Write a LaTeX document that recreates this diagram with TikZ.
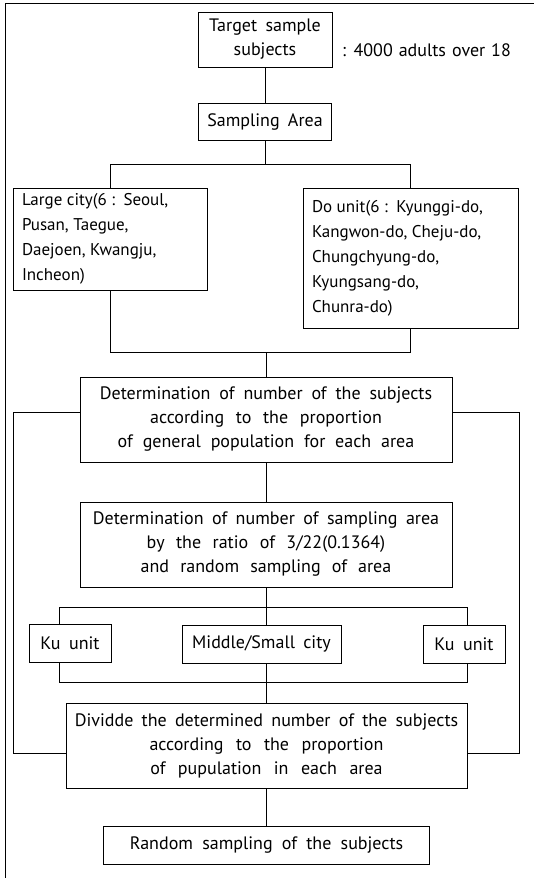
\documentclass[tikz,border=0pt]{standalone}
\usepackage{fontspec}
\setmainfont{PT Sans}
\usetikzlibrary{calc,positioning}
\newcommand\boxfont{\fontsize{18}{24}\selectfont}
\newcommand\listfont{\fontsize{17}{25}\selectfont}

\begin{document}
\begin{tikzpicture}[x=1pt,y=1pt,node distance=35pt,
    stage/.style={
    % The shape:
    rectangle,
    draw,line width=1pt,
    inner xsep=4pt,inner ysep=3pt,
    % The rest
    align=center,
    font=\boxfont,
    execute at begin node={\spaceskip=8pt plus 2pt\relax}},
    listbox/.style={stage,align=left,inner xsep=9pt,font=\listfont,
    execute at begin node={\spaceskip=4.5pt plus 1pt\relax}},
    link/.style={line width=1pt}]
    \useasboundingbox (0,0) rectangle (534,-878);
    % frame of the page
    \draw[link] (5,-878) -- (5,-3) -- (534,-3);
    \node (target) [stage,text width=126pt,minimum height=55pt] at (265,-39.5) {Target sample\\subjects};
    \node (note) [right=6pt of target,yshift=-11pt,font=\boxfont,
      execute at begin node={\spaceskip=6pt\relax}] {: 4000 adults over 18};
    \node (sampling) [stage,text width=125pt,minimum height=37pt,below=35pt of target] {Sampling Area};
    \node (large) [listbox,text width=176pt,minimum height=102pt] at (110,-239) {Large city(6 : Seoul,\\Pusan, Taegue,\\Daejoen, Kwangju,\\Incheon)};
    \node (dounit) [listbox,text width=197pt,minimum height=140pt] at (410.5,-258) {Do unit(6 : Kyunggi-do,\\Kangwon-do, Cheju-do,\\Chungchyung-do,\\Kyungsang-do,\\Chunra-do)};
    \node (det1) [stage,text width=364pt,minimum height=85pt] at (266,-419.5) {Determination of number of the subjects\\according to the proportion\\of general population for each area};
    \node (det2) [stage,text width=364pt,minimum height=85pt,below=39pt of det1] {Determination of number of sampling area\\by the ratio of 3/22(0.1364)\\and random sampling of area};
    \node (kuL) [stage,text width=74pt,minimum height=38pt] at (70,-643) {Ku unit};
    \node (mid) [stage,text width=151pt,minimum height=38pt] at (261.5,-644) {Middle/Small city};
    \node (kuR) [stage,text width=74pt,minimum height=38pt] at (464,-644) {Ku unit};
    \node (divide) [stage,text width=393pt,minimum height=85pt] at (266.5,-745.5) {Dividde the determined number of the subjects\\according to the proportion\\of pupulation in each area};
    \node (random) [stage,text width=318pt,minimum height=38pt,below=37pt of divide] {Random sampling of the subjects};
    % connectors
    \draw[link] (target) -- (sampling);
    \draw[link] (sampling.south) -- ++(0,-24) coordinate (fork1);
    \draw[link] (large.north) |- (fork1) -| (dounit.north);
    \coordinate (merge1) at ($(det1.north)+(0,24)$);
    \draw[link] (large.south) |- (merge1) -| (dounit.south);
    \draw[link] (merge1) -- (det1.north);
    \coordinate (loopL) at (13,-753);
    \coordinate (loopR) at (519,-753);
    \draw[link] ([yshift=7.5pt]det1.west) -| (loopL) -- ([yshift=-7.5pt]divide.west);
    \draw[link] ([yshift=7.5pt]det1.east) -| (loopR) -- ([yshift=-7.5pt]divide.east);
    \draw[link] (det1) -- (det2);
    \coordinate (fork2) at ($(det2.south)+(0,-20)$);
    \draw[link] (det2.south) -- (fork2);
    \draw[link] ([xshift=-11pt]kuL.north) |- (fork2) -| ([xshift=3pt]kuR.north);
    \draw[link] (fork2) -- (fork2 |- mid.north);
    \coordinate (merge2) at ($(divide.north)+(0,20)$);
    \draw[link] ([xshift=-11pt]kuL.south) |- (merge2) -| ([xshift=3pt]kuR.south);
    \draw[link] (merge2 |- mid.south) -- (divide.north);
    \draw[link] (divide) -- (random);
\end{tikzpicture}
\end{document}
